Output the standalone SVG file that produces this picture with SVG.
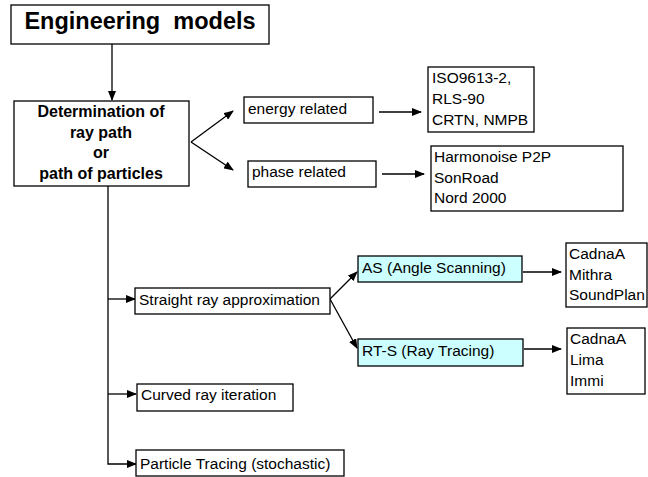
<svg xmlns="http://www.w3.org/2000/svg" width="648" height="477" viewBox="0 0 648 477">
<defs>
<marker id="ah" markerWidth="10" markerHeight="8" refX="9" refY="4" orient="auto" markerUnits="userSpaceOnUse">
<path d="M0,0 L10,4 L0,8 Z" fill="#000"/>
</marker>
</defs>
<style>
rect{fill:#fff;stroke:#000;stroke-width:1.3}
rect.cy{fill:#ccffff}
text{font-family:"Liberation Sans",Arial,sans-serif;font-size:15.5px;fill:#000}
text.b{font-weight:bold;font-size:16px;text-anchor:middle}
text.t{font-weight:bold;font-size:23.5px;text-anchor:middle;white-space:pre}
#connectors line,#connectors polyline{stroke:#000;stroke-width:1.3;fill:none;marker-end:url(#ah)}
</style>
<rect width="648" height="477" style="fill:#fff;stroke:none"/>
<g id="connectors">
<line x1="112" y1="44" x2="112" y2="100"/>
<line x1="191" y1="142" x2="233" y2="111"/>
<line x1="191" y1="142" x2="233" y2="170"/>
<line x1="379" y1="112" x2="421" y2="112"/>
<line x1="382" y1="174" x2="424" y2="174"/>
<polyline points="108,186 108,464 136,464"/>
<line x1="108" y1="299" x2="135" y2="299"/>
<line x1="108" y1="394" x2="136" y2="394"/>
<line x1="330" y1="299" x2="357" y2="272"/>
<line x1="330" y1="299" x2="357" y2="348"/>
<line x1="523" y1="272" x2="561" y2="272"/>
<line x1="524" y1="349" x2="561" y2="349"/>
</g>
<g id="title">
<rect x="11" y="5" width="258" height="39"/>
<text class="t" x="140" y="29">Engineering  models</text>
</g>
<g id="determination">
<rect x="14" y="101" width="175" height="85"/>
<text class="b" x="101" y="117">Determination of</text>
<text class="b" x="101" y="138">ray path</text>
<text class="b" x="101" y="158">or</text>
<text class="b" x="101" y="179">path of particles</text>
</g>
<g id="energy">
<rect x="244" y="97" width="129" height="26"/>
<text x="248" y="114">energy related</text>
</g>
<g id="phase">
<rect x="248" y="161" width="128" height="26"/>
<text x="252" y="177">phase related</text>
</g>
<g id="energy-models">
<rect x="428" y="67" width="106" height="65"/>
<text x="432" y="83">ISO9613-2,</text>
<text x="432" y="104">RLS-90</text>
<text x="432" y="125">CRTN, NMPB</text>
</g>
<g id="phase-models">
<rect x="431" y="146" width="192" height="65"/>
<text x="434" y="162">Harmonoise P2P</text>
<text x="434" y="183">SonRoad</text>
<text x="434" y="203">Nord 2000</text>
</g>
<g id="straight">
<rect x="135" y="288" width="195" height="26"/>
<text x="139" y="305">Straight ray approximation</text>
</g>
<g id="curved">
<rect x="137" y="384" width="156" height="27"/>
<text x="141" y="400">Curved ray iteration</text>
</g>
<g id="particle">
<rect x="136" y="450" width="208" height="26"/>
<text x="140" y="469">Particle Tracing (stochastic)</text>
</g>
<g id="as">
<rect class="cy" x="358" y="256" width="164" height="26"/>
<text x="362" y="273">AS (Angle Scanning)</text>
</g>
<g id="rts">
<rect class="cy" x="358" y="339" width="165" height="27"/>
<text x="362" y="356">RT-S (Ray Tracing)</text>
</g>
<g id="as-models">
<rect x="566" y="243" width="81" height="64"/>
<text x="569" y="259">CadnaA</text>
<text x="569" y="280">Mithra</text>
<text x="569" y="300">SoundPlan</text>
</g>
<g id="rts-models">
<rect x="567" y="328" width="78" height="66"/>
<text x="570" y="344">CadnaA</text>
<text x="570" y="365">Lima</text>
<text x="570" y="386">Immi</text>
</g>
</svg>
